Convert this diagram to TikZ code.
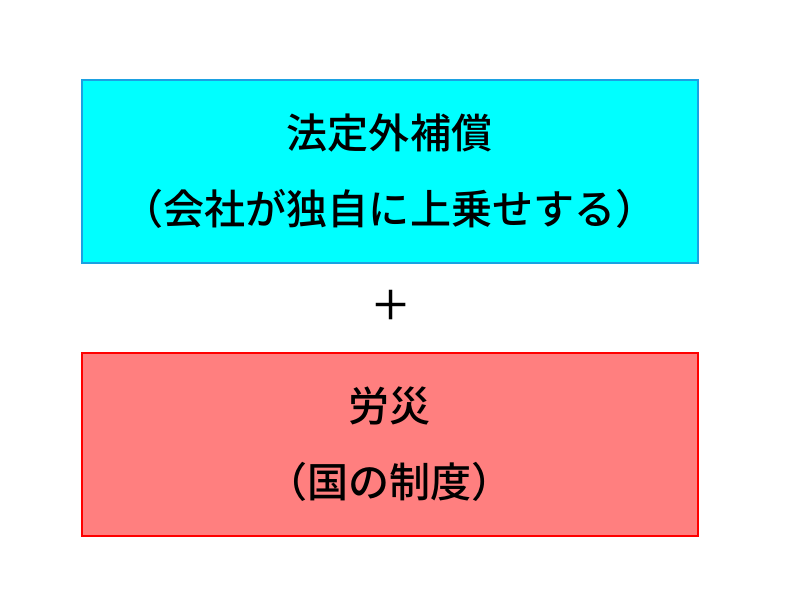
\documentclass[tikz,border=0pt]{standalone}
\usepackage{fontspec}
\setmainfont{Noto Sans CJK JP}[UprightFont=* Medium]
\definecolor{topfill}{HTML}{00FFFF}
\definecolor{topline}{HTML}{1BA1E2}
\definecolor{botfill}{HTML}{FF7F7F}
\definecolor{botline}{HTML}{FF0000}
\tikzset{
  boxstyle/.style={draw, line width=1.5pt, minimum width=616*0.75pt, minimum height=183*0.75pt, align=center, inner sep=0pt,
    font=\fontsize{30.8pt}{57pt}\selectfont},
}
\begin{document}
\begin{tikzpicture}[x=0.75pt,y=-0.75pt]
\useasboundingbox (0,0) rectangle (798,612);
\node[boxstyle, fill=topfill, draw=topline] (top) at (389.5,171) {法定外補償\\（会社が独自に上乗せする）};
\node[font=\fontsize{30.8pt}{36pt}\selectfont] (plus) at (391,305) {＋};
\node[boxstyle, fill=botfill, draw=botline] (bot) at (389.5,444.5) {労災\\（国の制度）};
\end{tikzpicture}
\end{document}
